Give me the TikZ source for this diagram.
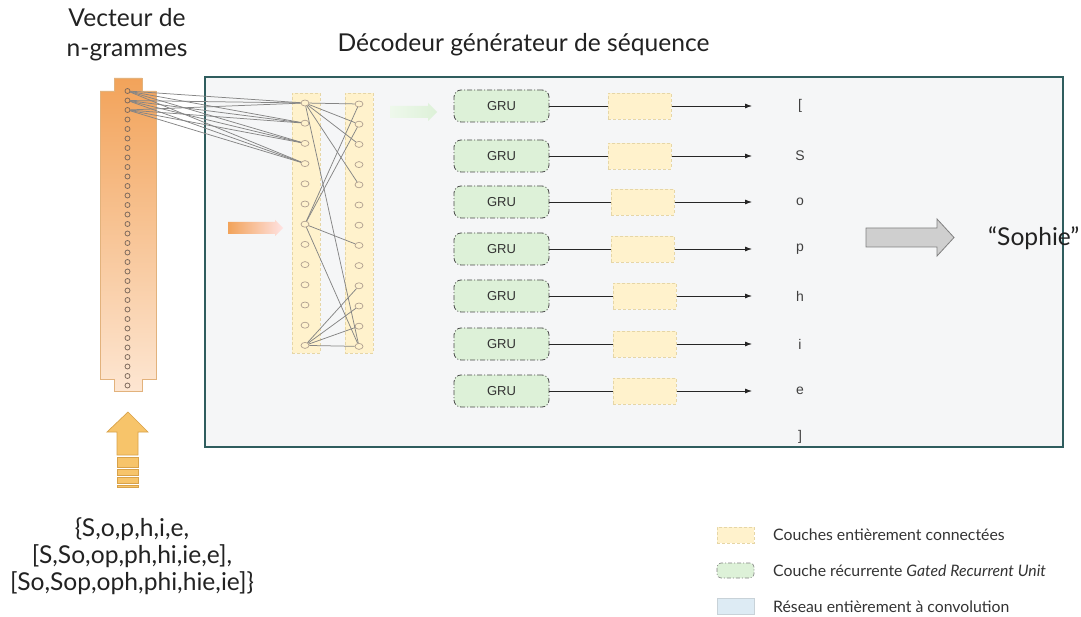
\documentclass[tikz,border=0pt]{standalone}
\usepackage{fontspec}
\setmainfont{Lato}
\newfontfamily\arialf{Liberation Sans}
\usetikzlibrary{shapes.geometric,arrows.meta}
\definecolor{boxfill}{HTML}{F5F6F7}
\definecolor{boxline}{HTML}{2F5D5E}
\definecolor{ylfill}{HTML}{FFF2CC}
\definecolor{ylline}{HTML}{E6D6A6}
\definecolor{grfill}{HTML}{DDF1D8}
\definecolor{grline}{HTML}{4A4A4A}
\definecolor{blfill}{HTML}{DDEBF4}
\definecolor{blline}{HTML}{C8D2D8}
\definecolor{conn}{HTML}{858585}
\definecolor{circline}{HTML}{7E6A5C}
\definecolor{lcircline}{HTML}{B0A090}
\definecolor{vtop}{HTML}{F2A35A}
\definecolor{vbot}{HTML}{FDE6D2}
\definecolor{vline}{HTML}{E2B27C}
\definecolor{uparr}{HTML}{F7C46A}
\definecolor{uparrline}{HTML}{D8A24A}
\definecolor{grayarr}{HTML}{CFCFCF}
\definecolor{grayarrline}{HTML}{808080}
\definecolor{txt}{HTML}{222222}
\begin{document}
\begin{tikzpicture}[x=1pt,y=-1pt,
  ylbox/.style={draw=ylline, fill=ylfill, dash pattern=on 3pt off 2pt, line width=0.6pt, inner sep=0},
  grubox/.style={draw=grline, fill=grfill, rounded corners=7pt, dash pattern=on 5pt off 2pt on 1pt off 2pt, line width=0.8pt, minimum width=95pt, minimum height=32pt, inner sep=0, font=\arialf\fontsize{13}{15}\selectfont, text=black!80},
  vcirc/.style={circle, draw=circline, line width=0.8pt, minimum size=5pt, inner sep=0},
  lcirc/.style={ellipse, draw=lcircline, line width=0.7pt, minimum width=8pt, minimum height=6pt, inner sep=0},
  link/.style={draw=conn, line width=0.75pt},
  outarr/.style={-{Latex[length=7pt,width=5pt]}, line width=0.8pt, draw=black!85},
  letter/.style={font=\arialf\fontsize{14}{16}\selectfont, text=black!75, inner sep=0},
  legtext/.style={font=\fontsize{15.8}{18}\selectfont, text=black!80, anchor=west, inner sep=0}
]
\useasboundingbox (0,0) rectangle (1081,617);
% titles
\node[font=\fontsize{24.6}{30}\selectfont, text=txt, align=center] (vtitle) at (127,35) {Vecteur de\\n-grammes};
\node[font=\fontsize{24.6}{28}\selectfont, text=txt] (dtitle) at (523.5,45) {Décodeur générateur de séquence};
% main box
\draw[fill=boxfill, draw=boxline, line width=2pt] (205,77) rectangle (1063,447);
% vector bar
\shadedraw[top color=vtop, bottom color=vbot, draw=vline, line width=0.8pt]
  (114,78) -- (142,78) -- (142,91) -- (156,91) -- (156,379) -- (142,379) -- (142,391)
  -- (114,391) -- (114,379) -- (100,379) -- (100,91) -- (114,91) -- cycle;
% layer columns
\node[ylbox, minimum width=28pt, minimum height=260pt] (col1) at (306,223) {};
\node[ylbox, minimum width=28pt, minimum height=260pt] (col2) at (359,223) {};
% circles
\foreach \i in {1,...,32} \node[vcirc] (v\i) at (127.5,{91+9.5*(\i-1)}) {};
\foreach \i in {1,...,13} {
  \node[lcirc] (a\i) at (305,{103+20.2*(\i-1)}) {};
  \node[lcirc] (b\i) at (359,{104+20.2*(\i-1)}) {};
}
% links
\foreach \s in {1,2,3} \foreach \t in {1,2,3,4} \draw[link] (v\s) -- (a\t);
\foreach \s/\t in {1/1,1/2,1/3,1/5,1/13,7/1,7/2,7/8,7/13,13/10,13/11,13/12,13/13}
  \draw[link] (a\s) -- (b\t);
% orange arrow
\shade[left color=vtop, right color=pink!45] (228,222) -- (275,222) -- (275,220) -- (283,228)
  -- (275,236) -- (275,234) -- (228,234) -- cycle;
% green arrow
\shade[left color=grfill!50, right color=grfill] (390,106) -- (428,106) -- (428,103) -- (437,112)
  -- (428,121) -- (428,118) -- (390,118) -- cycle;
% rows
\foreach \r/\yy/\xl/\ch in {1/106/608/{[},2/156/608/S,3/202/611/o,4/249/611/p,5/296/613/h,6/344/613/i,7/391/613/e} {
  \node[grubox] (g\r) at (501.5,\yy) {GRU};
  \node[ylbox, minimum width=63pt, minimum height=26pt, anchor=west] (y\r) at (\xl,\yy) {};
  \coordinate (e\r) at (752,\yy);
  \node[letter] (l\r) at (800,\yy) {\ch};
  \draw[line width=0.8pt, draw=black!85] (g\r) -- (y\r);
  \draw[outarr] (y\r) -- (e\r);
}
\node[letter] (l8) at (800,437) {]};
% gray arrow and result
\filldraw[fill=grayarr, draw=grayarrline, line width=0.8pt] (866,228) -- (937,228) -- (937,219)
  -- (954,237.5) -- (937,256) -- (937,247) -- (866,247) -- cycle;
\node[font=\fontsize{24.6}{28}\selectfont, text=txt, anchor=west, inner sep=0] (res) at (988,238) {“Sophie”};
% up arrow
\filldraw[fill=uparr, draw=uparrline, line width=0.7pt] (128,412) -- (148,432) -- (138,432)
  -- (138,455) -- (117,455) -- (117,432) -- (107,432) -- cycle;
\foreach \a/\b in {457/467,469/475,477/483,485/487}
  \filldraw[fill=uparr, draw=uparrline, line width=0.5pt] (117,\a) rectangle (138,\b);
% input text
\node[font=\fontsize{24.6}{27}\selectfont, text=txt, align=center] (inp) at (132,556)
  {\{S,o,p,h,i,e,\\{}[S,So,op,ph,hi,ie,e],\\{}[So,Sop,oph,phi,hie,ie]\}};
% legend
\node[ylbox, minimum width=37pt, minimum height=16pt] (k1) at (735.5,535) {};
\node[draw=grline!70, fill=grfill, rounded corners=4pt, dash pattern=on 4pt off 2pt on 1pt off 2pt, line width=0.6pt, minimum width=37pt, minimum height=15pt, inner sep=0] (k2) at (735.5,570.5) {};
\node[draw=blline, fill=blfill, line width=0.6pt, minimum width=37pt, minimum height=16pt, inner sep=0] (k3) at (735.5,606) {};
\node[legtext] (t1) at (773,535) {Couches entièrement connectées};
\node[legtext] (t2) at (773,571) {Couche récurrente \textit{Gated Recurrent Unit}};
\node[legtext] (t3) at (773,607) {Réseau entièrement à convolution};
\end{tikzpicture}
\end{document}
